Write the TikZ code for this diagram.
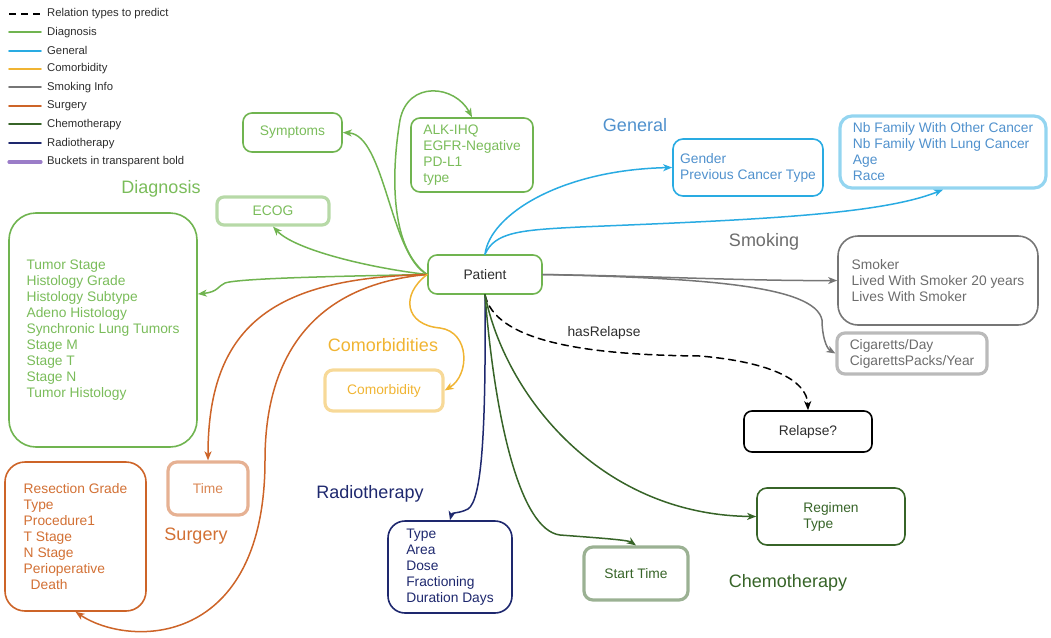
\documentclass[tikz,border=0pt]{standalone}
\usepackage{fontspec}
\setmainfont{Liberation Sans}
\usetikzlibrary{arrows.meta}

\definecolor{diagC}{RGB}{112,180,80}
\definecolor{diagT}{RGB}{122,188,90}
\definecolor{genC}{RGB}{41,171,226}
\definecolor{genT}{RGB}{80,145,205}
\definecolor{comC}{RGB}{240,180,50}
\definecolor{smkC}{RGB}{118,118,118}
\definecolor{smkT}{RGB}{108,108,108}
\definecolor{surC}{RGB}{205,100,40}
\definecolor{surT}{RGB}{210,112,52}
\definecolor{cheC}{RGB}{55,100,40}
\definecolor{radC}{RGB}{30,40,110}
\definecolor{bucC}{RGB}{155,125,200}
\definecolor{inkC}{RGB}{45,45,45}

\tikzset{
  box/.style={draw, line width=1.6pt, rounded corners=9pt, align=left, inner sep=0pt,
    font=\fontsize{13.8}{16}\selectfont},
  bucket/.style={box, line width=3.2pt, draw opacity=0.5},
  group/.style={font=\fontsize{18}{20}\selectfont},
  edge/.style={line width=1.5pt, -{Stealth[length=9pt,width=7pt,inset=2.5pt]}},
  legline/.style={line width=1.8pt},
  legtext/.style={anchor=west, inner sep=0pt, text=inkC, font=\fontsize{11.3}{13}\selectfont},
}

\begin{document}
\begin{tikzpicture}[x=1pt,y=-1pt,line cap=round,line join=round]
  \useasboundingbox (0,0) rectangle (1051,637);

  % legend
  \draw[legline, black, line cap=butt, dash pattern=on 7pt off 5pt] (9,14) -- (41,14);
  \draw[legline, diagC] (9,32.3) -- (41,32.3);
  \draw[legline, genC] (9,50.7) -- (41,50.7);
  \draw[legline, comC] (9,69) -- (41,69);
  \draw[legline, smkC] (9,87.3) -- (41,87.3);
  \draw[legline, surC] (9,106) -- (41,106);
  \draw[legline, cheC] (9,124.3) -- (41,124.3);
  \draw[legline, radC] (9,143.3) -- (41,143.3);
  \draw[legline, bucC, line width=3.2pt] (9,162) -- (41,162);
  \node[legtext] (lgpred) at (47,14) {Relation types to predict};
  \node[legtext] (lgdiag) at (47,32.3) {Diagnosis};
  \node[legtext] (lggen) at (47,50.7) {General};
  \node[legtext] (lgcom) at (47,69) {Comorbidity};
  \node[legtext] (lgsmk) at (47,87.3) {Smoking Info};
  \node[legtext] (lgsur) at (47,106) {Surgery};
  \node[legtext] (lgche) at (47,124.3) {Chemotherapy};
  \node[legtext] (lgrad) at (47,143.3) {Radiotherapy};
  \node[legtext] (lgbuc) at (47,162) {Buckets in transparent bold};

  % centre
  \node[box, draw=diagC, text=inkC, minimum width=114pt, minimum height=39pt] (pat) at (485,274.5) {Patient};

  % diagnosis
  \node[group, text=diagT] (diaglab) at (161,189) {Diagnosis};
  \node[box, draw=diagC, text=diagT, minimum width=99pt, minimum height=39pt] (sym) at (292.5,132.5) {Symptoms};
  \node[box, draw=diagC, text=diagT, minimum width=122pt, minimum height=74pt] (alk) at (472,155)
    {ALK-IHQ\\EGFR-Negative\\PD-L1\\type};
  \node[bucket, draw=diagC, text=diagT, minimum width=112pt, minimum height=28pt, rounded corners=7pt] (ecog) at (273,211) {ECOG};
  \node[box, draw=diagC, text=diagT, minimum width=188pt, minimum height=234pt, rounded corners=27pt] (diag) at (103,330)
    {Tumor Stage\\Histology Grade\\Histology Subtype\\Adeno Histology\\Synchronic Lung Tumors\\Stage M\\Stage T\\Stage N\\Tumor Histology};

  % general
  \node[group, text=genT] (genlab) at (635,125) {General};
  \node[box, draw=genC, text=genT, minimum width=150pt, minimum height=57pt, rounded corners=10pt] (gen) at (748,167.5)
    {Gender\\Previous Cancer Type};
  \node[bucket, draw=genC, text=genT, minimum width=206pt, minimum height=72pt, rounded corners=12pt] (nb) at (943,152)
    {Nb Family With Other Cancer\\Nb Family With Lung Cancer\\Age\\Race};

  % smoking
  \node[group, text=smkT] (smklab) at (764,242) {Smoking};
  \node[box, draw=smkC, text=smkT, minimum width=200pt, minimum height=89pt, rounded corners=20pt] (smk) at (938,280.5)
    {Smoker\\Lived With Smoker 20 years\\Lives With Smoker};
  \node[bucket, draw=smkC, text=smkT, minimum width=150pt, minimum height=41pt, rounded corners=8pt] (cig) at (912,353.5)
    {Cigaretts/Day\\CigarettsPacks/Year};

  % relapse
  \node[box, draw=black, text=inkC, minimum width=128pt, minimum height=41pt, rounded corners=8pt] (rel) at (808,431.5) {Relapse?};
  \node[inner sep=0pt, text=inkC, font=\fontsize{13.8}{16}\selectfont] (hasrel) at (604,333) {hasRelapse};

  % comorbidities
  \node[group, text=comC] (comlab) at (383,345) {Comorbidities};
  \node[bucket, draw=comC, text=comC, minimum width=118pt, minimum height=41pt, rounded corners=8pt] (como) at (384,390.5) {Comorbidity};

  % surgery
  \node[group, text=surT] (surlab) at (196,536) {Surgery};
  \node[bucket, draw=surC, text=surT!85, minimum width=80pt, minimum height=53pt, rounded corners=9pt] (time) at (208,488.5) {Time};
  \node[box, draw=surC, text=surT, minimum width=141pt, minimum height=149pt, rounded corners=20pt] (surg) at (75.5,536.5)
    {Resection Grade\\Type\\Procedure1\\T Stage\\N Stage\\Perioperative\\\hspace*{7pt}Death};

  % radiotherapy
  \node[group, text=radC] (radlab) at (370,494) {Radiotherapy};
  \node[box, draw=radC, text=radC, minimum width=124pt, minimum height=92pt, rounded corners=17pt] (rad) at (450,567)
    {Type\\Area\\Dose\\Fractioning\\Duration Days};

  % chemotherapy
  \node[group, text=cheC] (chelab) at (788,583) {Chemotherapy};
  \node[bucket, draw=cheC, text=cheC, minimum width=104pt, minimum height=53pt, rounded corners=9pt] (st) at (636,573.5) {Start Time};
  \node[box, draw=cheC, text=cheC, minimum width=148pt, minimum height=57pt, rounded corners=10pt] (reg) at (831,516.5)
    {Regimen\\Type};

  % diagnosis edges
  \draw[edge, diagC] (pat.west) .. controls (390,255) and (385,135) .. (sym.east);
  \draw[edge, diagC] (pat.west) .. controls (392,250) and (390,180) .. (400,120)
    .. controls (408,80) and (455,85) .. (alk.north);
  \draw[edge, diagC] (pat.west) .. controls (370,268) and (295,250) .. (ecog.south);
  \draw[edge, diagC] (pat.west) .. controls (350,276) and (240,278) .. (225,283)
    .. controls (218,286) and (218,292) .. ([yshift=36pt]diag.east);

  % surgery edges
  \draw[edge, surC] (pat.west) .. controls (280,278) and (208,320) .. (time.north);
  \draw[edge, surC] (pat.west) .. controls (310,285) and (265,360) .. (265,460)
    .. controls (265,648) and (130,648) .. (surg.south);

  % comorbidity edge
  \draw[edge, comC] (pat.west) .. controls (400,295) and (405,325) .. (440,328)
    .. controls (470,332) and (470,375) .. (como.east);

  % general edges
  \draw[edge, genC] (pat.north) .. controls (490,215) and (560,170) .. (gen.west);
  \draw[edge, genC] (pat.north) .. controls (495,232) and (520,230) .. (580,227)
    .. controls (750,220) and (880,215) .. (nb.south);

  % smoking edges
  \draw[edge, smkC] (pat.east) .. controls (650,276) and (750,281) .. (smk.west);
  \draw[edge, smkC] (pat.east) .. controls (700,278) and (815,285) .. (822,320)
    .. controls (822,335) and (826,348) .. (cig.west);

  % relation to predict
  \draw[edge, black, dash pattern=on 7pt off 5pt] (pat.south) .. controls (495,340) and (580,355) .. (700,356)
    .. controls (770,362) and (807,380) .. (rel.north);

  % radiotherapy edge
  \draw[edge, radC] (pat.south) .. controls (486,430) and (482,500) .. (468,509)
    .. controls (458,514) and (452,512) .. (rad.north);

  % chemotherapy edges
  \draw[edge, cheC] (pat.south) .. controls (495,420) and (520,530) .. (560,535)
    .. controls (600,538) and (628,540) .. (st.north);
  \draw[edge, cheC] (pat.south) .. controls (505,395) and (600,515) .. (reg.west);
\end{tikzpicture}
\end{document}
